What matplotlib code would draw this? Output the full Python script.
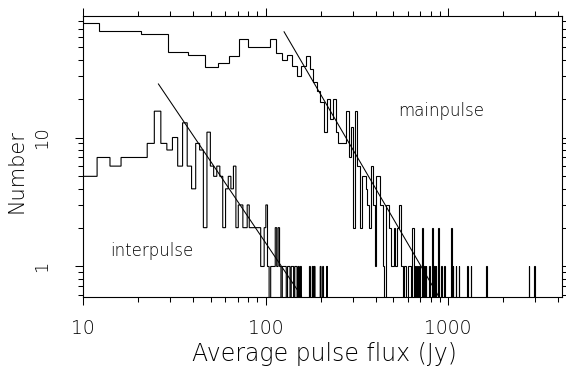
import numpy as np
import matplotlib
matplotlib.use("Agg")
import matplotlib.pyplot as plt
from matplotlib.ticker import FixedLocator, LogLocator, NullFormatter

plt.rcParams["font.family"] = "DejaVu Sans"
plt.rcParams["font.weight"] = "light"
plt.rcParams["axes.labelweight"] = "light"

# mainpulse histogram: bins of equal width in flux (Jy)
main_bin_start = 3.7
main_bin_width = 8.5
main_counts = [77, 67, 63, 46, 44, 35, 38, 43, 58, 50,
               50, 50, 58, 45, 40, 44, 36, 30, 36, 43,
               34, 27, 23, 19, 11, 20, 14, 20, 11, 9,
               9, 9, 16, 7, 12, 2, 16, 6, 2, 5,
               5, 4, 3, 2, 6, 3, 1, 5, 5, 3,
               3, 1, 0, 3, 3, 2, 2, 1, 1, 2,
               1, 2, 2, 3, 1, 1, 0, 1, 1, 0, 1]
# single bright pulses above ~600 Jy
main_tail_flux = [611, 620, 637, 637, 645, 645, 662, 679, 696, 722, 722,
                  739, 756, 790, 824, 824, 841, 858, 883, 883, 916, 951,
                  1042, 1042, 1065, 1106, 1149, 1275, 1330, 1624, 2772, 2977]

# interpulse histogram
ip_bin_start = 9.8
ip_bin_width = 2.1
ip_counts = [5, 7, 6, 7, 7, 7, 9, 16, 9, 8,
             10, 6, 13, 6, 4, 9, 8, 2, 11, 6,
             5, 6, 5, 2, 4, 5, 4, 6, 2, 3,
             3, 2, 2, 3, 2, 2, 2, 2, 2, 2,
             1, 1, 2, 3, 1, 0, 1, 1, 1, 2,
             1, 2, 1, 0, 1, 1, 1, 0, 1, 1,
             0, 1, 1, 0, 1, 1, 0, 1, 0, 1]
ip_tail_flux = [175, 181, 185, 199, 206, 217]

# power-law fits (end points)
main_fit_flux = [126, 884]
main_fit_count = [66, 0.59]
ip_fit_flux = [25.8, 157]
ip_fit_count = [26, 0.59]

x_ticks = [10, 100, 1000]
x_tick_labels = ["10", "100", "1000"]
y_ticks = [1, 10]
y_tick_labels = ["1", "10"]


def build_hist(start, width, counts, tail, top=4300):
    n = int(np.ceil((top - start) / width))
    edges = start + width * np.arange(n + 1)
    full = np.zeros(n)
    full[:len(counts)] = counts
    extra, _ = np.histogram(tail, bins=edges)
    return edges, full + extra


main_edges, main_hist = build_hist(main_bin_start, main_bin_width, main_counts, main_tail_flux)
ip_edges, ip_hist = build_hist(ip_bin_start, ip_bin_width, ip_counts, ip_tail_flux)

fig = plt.figure(figsize=(5.66, 3.78), dpi=100)
ax = fig.add_axes([0.1472, 0.2143, 0.8466, 0.7442])

ax.set_xscale("log")
ax.set_yscale("log")

ax.stairs(main_hist, main_edges, color="black", lw=0.8, baseline=None)
ax.stairs(ip_hist, ip_edges, color="black", lw=0.8, baseline=None)
ax.plot(main_fit_flux, main_fit_count, color="black", lw=0.75)
ax.plot(ip_fit_flux, ip_fit_count, color="black", lw=0.75)

ax.set_xlim(10, 4230)
ax.set_ylim(0.58, 88)

ax.xaxis.set_major_locator(FixedLocator(x_ticks))
ax.set_xticklabels(x_tick_labels)
ax.yaxis.set_major_locator(FixedLocator(y_ticks))
ax.set_yticklabels(y_tick_labels)
for axis in (ax.xaxis, ax.yaxis):
    axis.set_minor_locator(LogLocator(base=10, subs=np.arange(2, 10)))
    axis.set_minor_formatter(NullFormatter())

for s in ax.spines.values():
    s.set_linewidth(0.8)
ax.tick_params(which="both", direction="out", top=True, right=True, width=0.75)
ax.tick_params(which="major", length=5.5)
ax.tick_params(which="minor", length=3.5)
ax.tick_params(axis="x", labelsize=13.5, pad=10)
ax.tick_params(axis="y", labelsize=13, pad=18, labelrotation=90)
for t in ax.get_yticklabels():
    t.set_va("center")

ax.set_xlabel("Average pulse flux (Jy)", fontsize=17, va="center")
ax.xaxis.set_label_coords(0.504, -0.203)
ax.set_ylabel("Number", fontsize=15, va="center")
ax.yaxis.set_label_coords(-0.139, 0.449)

ax.text(0.747, 0.661, "mainpulse", transform=ax.transAxes, fontsize=12,
        ha="center", va="center")
ax.text(0.1427, 0.162, "interpulse", transform=ax.transAxes, fontsize=12,
        ha="center", va="center")

fig.savefig("out.png", dpi=100)
